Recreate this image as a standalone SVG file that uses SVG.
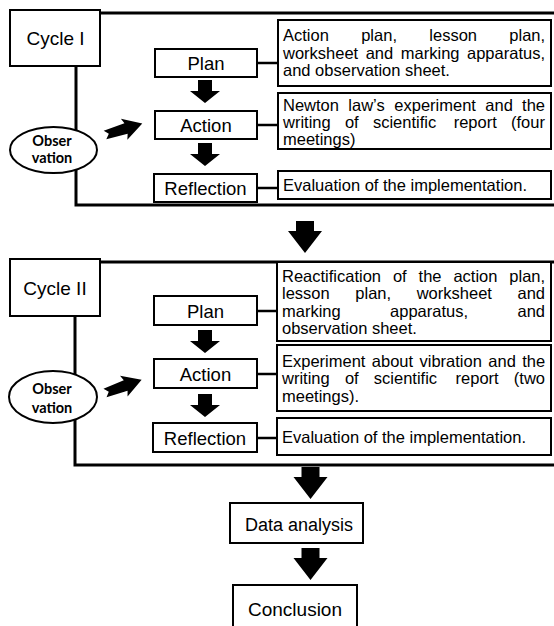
<svg xmlns="http://www.w3.org/2000/svg" xmlns:xlink="http://www.w3.org/1999/xlink" width="554" height="626" viewBox="0 0 554 626">
<style>
  .box{fill:#fff;stroke:#000;stroke-width:2}
  .frame{fill:none;stroke:#000;stroke-width:3}
  .conn{fill:none;stroke:#000;stroke-width:2.5}
  .lbl{font-family:"Liberation Sans",Arial,sans-serif;font-size:18.5px;fill:#000;text-anchor:middle}
  .cyc{font-family:"Liberation Sans",Arial,sans-serif;font-size:19px;fill:#000;text-anchor:middle}
  .desc{font-family:"Liberation Sans",Arial,sans-serif;font-size:16.5px;fill:#000}
  .obs{font-family:Lato,"Open Sans",sans-serif;font-weight:bold;font-size:14.5px;fill:#000;text-anchor:middle}
  .arr{fill:#000}
</style>
<defs>
  <path id="smallDown" d="M-7,0 H7 V11 H15 L0,23 L-15,11 H-7 Z"/>
  <path id="bigDown" d="M-9,0 H9 V10 H17 L0,32 L-17,10 H-9 Z"/>
  <path id="obsArrow" d="M0,-4.5 L22,-5.5 L20,-11 L39,0 L20,11 L22,5.5 L0,4.5 L4,0 Z"/>
</defs>
<rect width="554" height="626" fill="#fff"/>

<g id="connectors">
  <!-- Cycle I frame -->
  <polyline class="frame" points="100,13 554,13"/>
  <polyline class="frame" points="76,66 76,205 554,205"/>
  <!-- Cycle II frame -->
  <polyline class="frame" points="100,262 554,262"/>
  <polyline class="frame" points="75,316 75,465 554,465"/>
  <!-- box links cycle I -->
  <line class="conn" x1="257" y1="63" x2="278" y2="63"/>
  <line class="conn" x1="257" y1="125" x2="278" y2="125"/>
  <line class="conn" x1="257" y1="188" x2="278" y2="188"/>
  <!-- box links cycle II -->
  <line class="conn" x1="257" y1="311" x2="277" y2="311"/>
  <line class="conn" x1="257" y1="374" x2="277" y2="374"/>
  <line class="conn" x1="257" y1="438" x2="277" y2="438"/>
  <!-- block arrows -->
  <use href="#smallDown" class="arr" transform="translate(205,80)"/>
  <use href="#smallDown" class="arr" transform="translate(205,143)"/>
  <use href="#smallDown" class="arr" transform="translate(205,330)"/>
  <use href="#smallDown" class="arr" transform="translate(205,394)"/>
  <use href="#bigDown" class="arr" transform="translate(305,221)"/>
  <use href="#bigDown" class="arr" transform="translate(310.5,467)"/>
  <use href="#bigDown" class="arr" transform="translate(310.5,548)"/>
  <use href="#obsArrow" class="arr" transform="translate(105,135) rotate(-17)"/>
  <use href="#obsArrow" class="arr" transform="translate(105,393) rotate(-20)"/>
</g>

<!-- Cycle I -->
<g id="cycle1">
  <rect class="box" x="10" y="10" width="90" height="56"/>
  <text class="cyc" x="55.5" y="45">Cycle I</text>
</g>
<g id="obs1">
  <ellipse class="box" cx="53.5" cy="150" rx="43.5" ry="23"/>
  <text class="obs" x="52" y="146">Obser</text>
  <text class="obs" x="52" y="163">vation</text>
</g>
<g id="plan1">
  <rect class="box" x="155" y="49" width="102" height="28"/>
  <text class="lbl" x="206" y="69.5">Plan</text>
</g>
<g id="action1">
  <rect class="box" x="155" y="111" width="102" height="28"/>
  <text class="lbl" x="206" y="131.5">Action</text>
</g>
<g id="reflection1">
  <rect class="box" x="154" y="174" width="103" height="28"/>
  <text class="lbl" x="205.5" y="194.5">Reflection</text>
</g>
<g id="desc1-plan">
  <rect class="box" x="278" y="20" width="273" height="66"/>
  <text class="desc" y="41"><tspan x="283">Action</tspan><tspan x="361.2">plan,</tspan><tspan x="429.3">lesson</tspan><tspan x="509.3">plan,</tspan></text>
  <text class="desc" y="58.5"><tspan x="283">worksheet</tspan><tspan x="365.7">and</tspan><tspan x="400.8">marking</tspan><tspan x="467">apparatus,</tspan></text>
  <text class="desc" x="283" y="76">and observation sheet.</text>
</g>
<g id="desc1-action">
  <rect class="box" x="278" y="93" width="273" height="56"/>
  <text class="desc" y="111"><tspan x="283">Newton</tspan><tspan x="348.3">law’s</tspan><tspan x="394.3">experiment</tspan><tspan x="485.3">and</tspan><tspan x="522.1">the</tspan></text>
  <text class="desc" y="128"><tspan x="283">writing</tspan><tspan x="344.9">of</tspan><tspan x="372.9">scientific</tspan><tspan x="453.7">report</tspan><tspan x="511">(four</tspan></text>
  <text class="desc" x="283" y="145">meetings)</text>
</g>
<g id="desc1-reflection">
  <rect class="box" x="278" y="171" width="273" height="28"/>
  <text class="desc" x="283" y="191">Evaluation of the implementation.</text>
</g>

<!-- Cycle II -->
<g id="cycle2">
  <rect class="box" x="10" y="259" width="90" height="57"/>
  <text class="cyc" x="55" y="295">Cycle II</text>
</g>
<g id="obs2">
  <ellipse class="box" cx="53" cy="397" rx="44" ry="26"/>
  <text class="obs" x="52" y="394">Obser</text>
  <text class="obs" x="52" y="413">vation</text>
</g>
<g id="plan2">
  <rect class="box" x="154" y="296" width="103" height="29"/>
  <text class="lbl" x="205.5" y="317.5">Plan</text>
</g>
<g id="action2">
  <rect class="box" x="154" y="359" width="103" height="29"/>
  <text class="lbl" x="205.5" y="380.5">Action</text>
</g>
<g id="reflection2">
  <rect class="box" x="153" y="423" width="104" height="29"/>
  <text class="lbl" x="205" y="444.5">Reflection</text>
</g>
<g id="desc2-plan">
  <rect class="box" x="277" y="262" width="274" height="79"/>
  <text class="desc" y="281.5"><tspan x="282">Reactification</tspan><tspan x="392.9">of</tspan><tspan x="418.6">the</tspan><tspan x="453.4">action</tspan><tspan x="509.3">plan,</tspan></text>
  <text class="desc" y="299"><tspan x="282">lesson</tspan><tspan x="355.3">plan,</tspan><tspan x="416.7">worksheet</tspan><tspan x="517.5">and</tspan></text>
  <text class="desc" y="316.5"><tspan x="282">marking</tspan><tspan x="390.1">apparatus,</tspan><tspan x="517.5">and</tspan></text>
  <text class="desc" x="282" y="334">observation sheet.</text>
</g>
<g id="desc2-action">
  <rect class="box" x="277" y="345" width="274" height="66"/>
  <text class="desc" y="366.5"><tspan x="282">Experiment</tspan><tspan x="371.8">about</tspan><tspan x="419.5">vibration</tspan><tspan x="488.3">and</tspan><tspan x="522.2">the</tspan></text>
  <text class="desc" y="384"><tspan x="282">writing</tspan><tspan x="344.9">of</tspan><tspan x="373.8">scientific</tspan><tspan x="455.6">report</tspan><tspan x="513.8">(two</tspan></text>
  <text class="desc" x="282" y="401.5">meetings).</text>
</g>
<g id="desc2-reflection">
  <rect class="box" x="277" y="418" width="274" height="37"/>
  <text class="desc" x="282" y="443">Evaluation of the implementation.</text>
</g>

<!-- Final steps -->
<g id="data-analysis">
  <rect class="box" x="230" y="503" width="133" height="40"/>
  <text class="lbl" x="299" y="531" style="font-size:18px">Data analysis</text>
</g>
<g id="conclusion">
  <rect class="box" x="233" y="585" width="124" height="50"/>
  <text class="lbl" x="295" y="616" style="font-size:19px">Conclusion</text>
</g>
</svg>
